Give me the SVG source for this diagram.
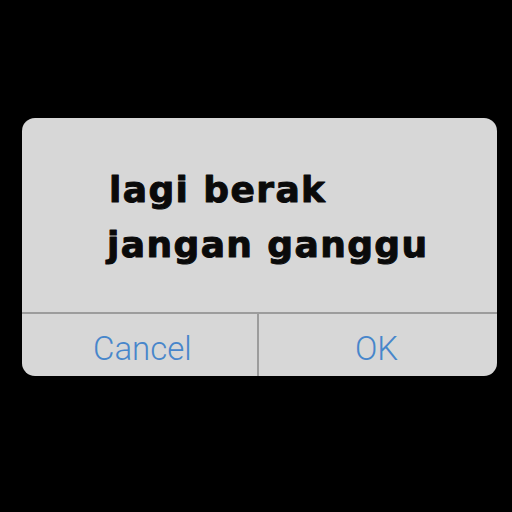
<svg xmlns="http://www.w3.org/2000/svg" width="512" height="512" viewBox="0 0 512 512">
<style>
.msg{font-family:"DejaVu Sans",sans-serif;font-weight:bold;font-size:36px;fill:#0a0a0a;stroke:#0a0a0a;stroke-width:1;stroke-linejoin:round;letter-spacing:1.4px}
.btn{font-family:Roboto,"Liberation Sans",sans-serif;font-weight:300;font-size:33px;fill:#4786cb}
.div{stroke:#9c9c9c;stroke-width:2;fill:none}
</style>
<rect width="512" height="512" fill="#000"/>
<g id="dialog">
<rect x="22" y="118" width="475" height="258" rx="13" ry="13" fill="#d7d7d7"/>
<text class="msg" x="109" y="202">lagi berak</text>
<text class="msg" x="107" y="257">jangan ganggu</text>
</g>
<g id="dividers">
<line class="div" x1="22" y1="313" x2="497" y2="313"/>
<line class="div" x1="258" y1="313" x2="258" y2="376"/>
</g>
<g id="cancel"><text class="btn" x="93" y="360">Cancel</text></g>
<g id="ok"><text class="btn" x="355" y="360">OK</text></g>
</svg>
